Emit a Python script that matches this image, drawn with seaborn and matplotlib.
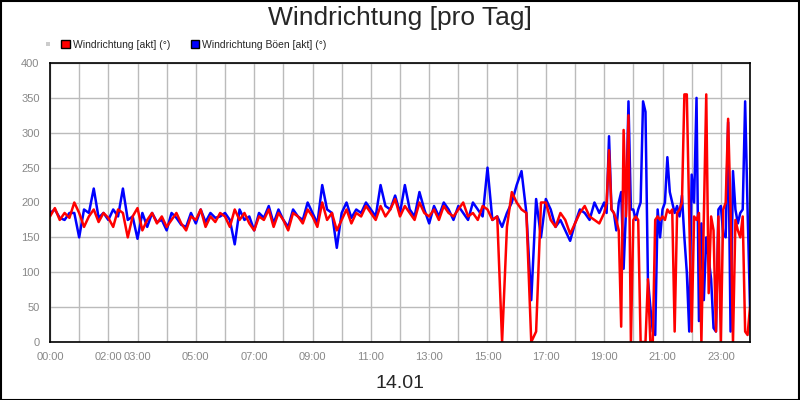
import numpy as np
import pandas as pd
import seaborn as sns
import matplotlib.pyplot as plt
from matplotlib.patches import Patch, Rectangle

# 10-min steps 00:00-18:50, then 5-min steps 19:00-24:00
hours = list(np.arange(0, 19, 1 / 6)) + list(np.arange(19, 24 + 1e-9, 1 / 12))

richtung = [
    180, 192, 175, 185, 178, 200,
    185, 165, 180, 190, 172, 185,
    178, 165, 190, 185, 150, 180,
    192, 160, 175, 185, 170, 180,
    165, 175, 185, 170, 160, 180,
    175, 190, 165, 180, 172, 185,
    180, 165, 190, 175, 185, 170,
    160, 180, 175, 190, 165, 185,
    175, 160, 185, 180, 170, 190,
    180, 165, 200, 175, 185, 160,
    175, 190, 170, 185, 180, 195,
    185, 175, 195, 180, 190, 205,
    180, 195, 185, 175, 200, 185,
    180, 190, 175, 195, 185, 180,
    190, 200, 180, 185, 175, 195,
    190, 175, 180, 0, 165, 215,
    200, 190, 185, 0, 15, 200,
    200, 175, 165, 185, 175, 155,
    170, 185, 195, 180, 175, 170,
    185, 200, 275, 190, 185, 175, 160, 22, 304, 180, 325, 0,
    175, 180, 175, 0, 0, 0, 90, 0, 0, 175, 180, 175,
    180, 175, 190, 185, 190, 15, 185, 190, 200, 355, 355, 180,
    15, 180, 175, 185, 0, 180, 355, 70, 180, 160, 15, 180,
    0, 190, 200, 320, 190, 0, 175, 160, 150, 180, 15, 10, 50,
]

boeen = [
    185, 190, 178, 175, 185, 185,
    150, 190, 185, 220, 178, 185,
    175, 190, 180, 220, 175, 180,
    148, 185, 165, 185, 172, 175,
    160, 185, 178, 168, 165, 185,
    170, 190, 172, 185, 178, 180,
    185, 175, 140, 190, 175, 180,
    160, 185, 178, 195, 170, 190,
    175, 165, 190, 180, 175, 200,
    185, 170, 225, 190, 185, 135,
    185, 200, 178, 190, 185, 200,
    190, 180, 225, 195, 190, 210,
    185, 225, 190, 180, 215, 190,
    170, 195, 180, 200, 190, 175,
    195, 185, 175, 200, 190, 180,
    250, 175, 180, 165, 185, 200,
    225, 245, 185, 60, 205, 150,
    205, 190, 165, 175, 160, 145,
    170, 190, 185, 175, 200, 185,
    200, 185, 295, 190, 185, 160, 200, 215, 105, 190, 345, 190,
    190, 175, 190, 200, 345, 330, 90, 50, 15, 10, 190, 150,
    190, 200, 265, 215, 200, 185, 195, 180, 210, 150, 100, 15,
    240, 200, 350, 30, 170, 60, 150, 120, 90, 20, 15, 190,
    195, 155, 150, 315, 15, 245, 190, 170, 185, 190, 345, 190, 50,
]

tick_hours = [0, 2, 3, 5, 7, 9, 11, 13, 15, 17, 19, 21, 23]

df = pd.DataFrame({"h": hours, "akt": richtung, "boeen": boeen})

sns.set_style("white")
plt.rcParams["font.family"] = ["Liberation Sans", "DejaVu Sans"]
fig = plt.figure(figsize=(8, 4), dpi=100)
ax = fig.add_axes([0.0625, 0.145, 0.875, 0.6975])

sns.lineplot(data=df, x="h", y="boeen", color="#0000ff", lw=1.8, ax=ax)
sns.lineplot(data=df, x="h", y="akt", color="#ff0000", lw=1.8, ax=ax)

ax.set_xlim(0, 24)
ax.set_ylim(0, 400)
ax.set_xticks(range(0, 25))
ax.set_xticklabels([f"{h:02d}:00" if h in tick_hours else "" for h in range(0, 25)])
ax.set_yticks(range(0, 401, 50))
ax.tick_params(labelsize=8, labelcolor="#888888", color="#888888", length=4)
ax.grid(True, color="#bbbbbb", lw=1)
ax.set_axisbelow(True)
for s in ax.spines.values():
    s.set_color("black")
    s.set_linewidth(1.2)
ax.set_xlabel("14.01", fontsize=14)
ax.xaxis.set_label_coords(0.5, -0.12)
ax.set_ylabel("")

fig.text(0.5, 0.955, "Windrichtung [pro Tag]", ha="center", va="center", fontsize=19)
handles = [Patch(facecolor="#ff0000", edgecolor="black", label="Windrichtung [akt] (°)"),
           Patch(facecolor="#0000ff", edgecolor="black", label="Windrichtung Böen [akt] (°)")]
fig.legend(handles=handles, loc="center left", bbox_to_anchor=(0.065, 0.888), ncol=2,
           frameon=False, fontsize=7.5, handlelength=0.8, handleheight=0.8,
           handletextpad=0.3, columnspacing=2.0)
fig.patches.append(Rectangle((0.058, 0.884), 0.005, 0.01, transform=fig.transFigure,
                             facecolor="#cccccc", edgecolor="none"))
fig.patches.append(Rectangle((0.001, 0.001), 0.998, 0.997, transform=fig.transFigure,
                             fill=False, edgecolor="black", lw=1.5))

fig.savefig("out.png", dpi=100)
